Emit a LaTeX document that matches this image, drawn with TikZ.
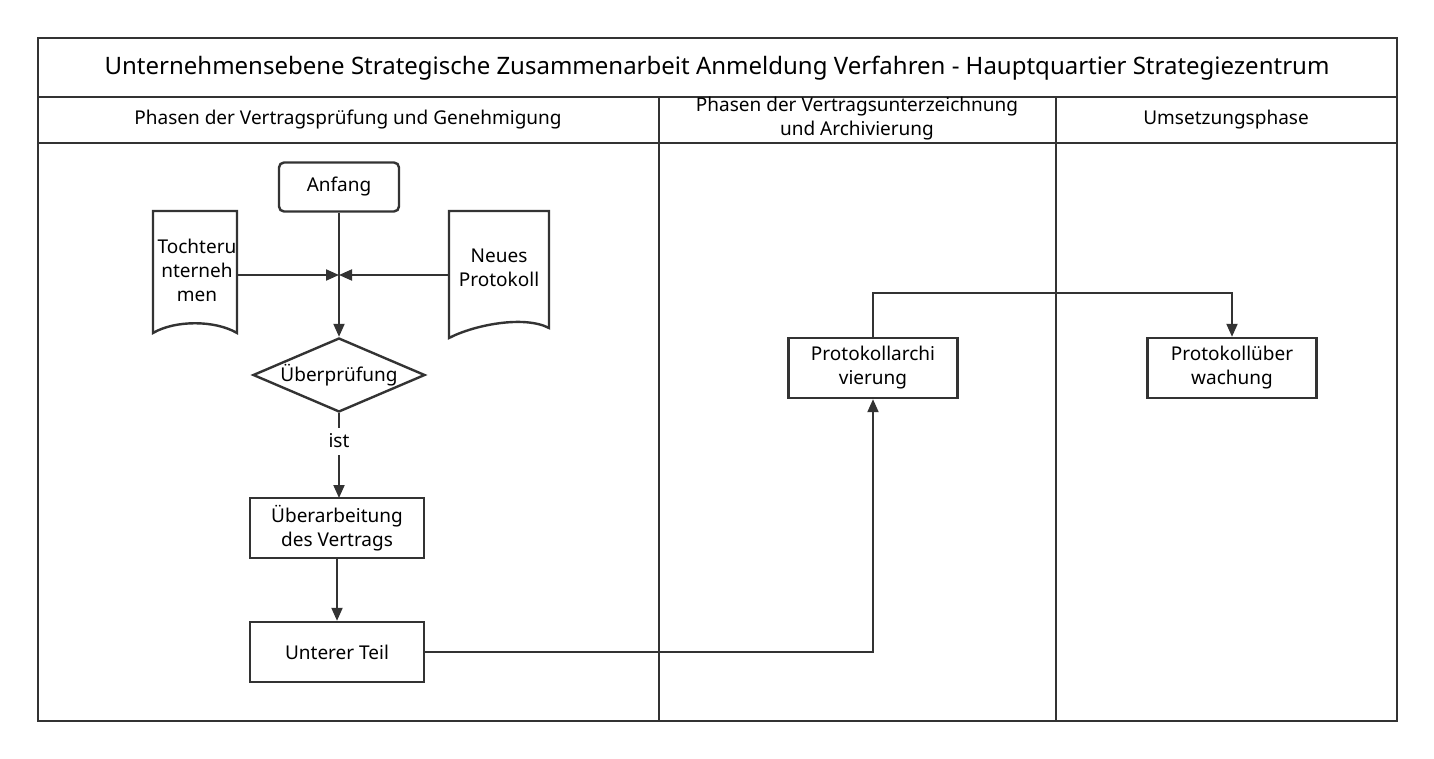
\documentclass[tikz,border=0pt]{standalone}
\usepackage{fontspec}
\setmainfont{Noto Sans}
\usetikzlibrary{shapes.geometric,arrows.meta}
\begin{document}
\begin{tikzpicture}[x=1pt,y=-1pt,
  line/.style={draw=black!80,line width=2.4pt},
  box/.style={draw=black!80,line width=2.4pt,minimum width=174pt,minimum height=60pt,align=center,font=\fontsize{19}{24}\selectfont},
  lbl/.style={align=center,font=\fontsize{19}{24}\selectfont},
  arr/.style={draw=black!80,line width=2pt,-{Triangle[length=13pt,width=11pt]}}]
\useasboundingbox (0,0) rectangle (1434,759);
\fill[white] (0,0) rectangle (1434,759);
% frame
\draw[line,line width=2.8pt] (38,38) rectangle (1397,721);
\draw[line] (38,97) -- (1397,97);
\draw[line] (38,143) -- (1397,143);
\draw[line] (659,97) -- (659,721);
\draw[line] (1056,97) -- (1056,721);
\node[lbl,font=\fontsize{24}{29}\selectfont] (title) at (717,68) {Unternehmensebene Strategische Zusammenarbeit Anmeldung Verfahren - Hauptquartier Strategiezentrum};
\node[lbl] (h1) at (348,120) {Phasen der Vertragsprüfung und Genehmigung};
\node[lbl,font=\fontsize{19}{24}\selectfont] (h2) at (857,119) {Phasen der Vertragsunterzeichnung\\und Archivierung};
\node[lbl] (h3) at (1226,120) {Umsetzungsphase};
% nodes
\node[box,rounded corners=5pt,minimum width=120pt,minimum height=49pt] (anf) at (339,187) {Anfang};
\draw[line] (153,211) -- (237,211) -- (237,333) .. controls (215,320) and (175,320) .. (153,333) -- cycle;
\node[lbl] (toch) at (197,270) {Tochteru\\nterneh\\men};
\draw[line] (449,211) -- (549,211) -- (549,328) .. controls (524,315) and (474,325) .. (449,338) -- cycle;
\node[lbl] (neu) at (499,268) {Neues\\Protokoll};
\coordinate (j) at (339,275);
\node[draw=black!80,line width=2.4pt,diamond,aspect=2.3,minimum width=172pt,minimum height=74pt,inner sep=0pt,font=\fontsize{19}{24}\selectfont] (pr) at (339,375) {Überprüfung};
\node[box] (ueb) at (337,528) {Überarbeitung\\des Vertrags};
\node[box] (unt) at (337,652) {Unterer Teil};
\node[box,minimum width=169pt] (arc) at (873,368) {Protokollarchi\\vierung};
\node[box,minimum width=169pt] (ube) at (1232,368) {Protokollüber\\wachung};
% edges
\draw[arr] (anf.south) -- (pr.north);
\draw[arr] (237,275) -- (j);
\draw[arr] (449,275) -- (j);
\draw[draw=black!80,line width=2pt] (pr.south) -- (339,428);
\node[lbl] (ist) at (339,441) {ist};
\draw[arr] (339,455) -- (339,498);
\draw[arr] (ueb.south) -- (unt.north);
\draw[arr] (unt.east) -| (arc.south);
\draw[arr] (arc.north) |- (1232,293) -- (ube.north);
\end{tikzpicture}
\end{document}
